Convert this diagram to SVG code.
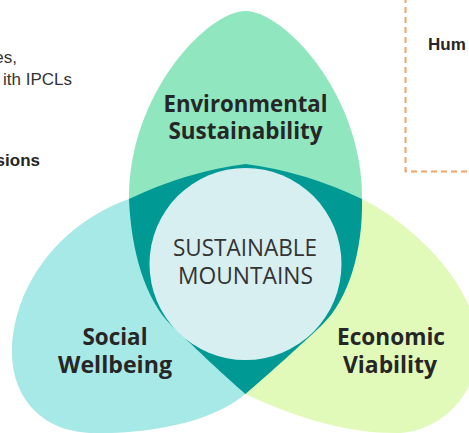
<svg xmlns="http://www.w3.org/2000/svg" width="469" height="433" viewBox="0 0 469 433">
<style>
.lbl{font-family:"Open Sans","Noto Sans","DejaVu Sans",sans-serif;font-weight:700;font-size:23px;fill:#262626;text-anchor:middle}
.ctr{font-family:"Open Sans","Noto Sans","DejaVu Sans",sans-serif;font-weight:400;font-size:24.5px;fill:#333333;text-anchor:middle}
.side{font-family:"Liberation Sans",Arial,sans-serif;font-size:17px;fill:#333333;text-anchor:end}
.sideb{font-family:"Liberation Sans",Arial,sans-serif;font-size:17px;font-weight:700;fill:#262626}
.box{fill:none;stroke:#F2A468;stroke-width:2;stroke-dasharray:6 4}
</style>
<rect width="469" height="433" fill="#ffffff"/>
<g id="side-text">
<text class="side" x="17" y="63">es,</text>
<text class="side" x="72" y="85">ith IPCLs</text>
<text class="sideb" x="40" y="166" text-anchor="end">sions</text>
</g>
<g id="dashed-box">
<rect class="box" x="405.5" y="-20" width="100" height="191.5"/>
<text class="sideb" x="428" y="50">Hum</text>
</g>
<g id="environmental">
<path d="M245.5,11 C284,11 363,95 362,199 L129,199 C128,95 207,11 245.5,11 Z" fill="#8FE6BF"/>
<text class="lbl" x="245.5" y="111.5" textLength="164" lengthAdjust="spacingAndGlyphs">Environmental</text>
<text class="lbl" x="245.5" y="138.5" textLength="154" lengthAdjust="spacingAndGlyphs">Sustainability</text>
</g>
<g id="social">
<path d="M129,199 C56,225 12,290 12,353 C12,395 40,433 95,433 C130,434 205,428 245.5,394 L245.5,264 Z" fill="#A6E9E6"/>
<text class="lbl" x="115" y="345" textLength="65" lengthAdjust="spacingAndGlyphs">Social</text>
<text class="lbl" x="115" y="373" textLength="114" lengthAdjust="spacingAndGlyphs">Wellbeing</text>
</g>
<g id="economic">
<path d="M362,199 C410,222 478,285 478,347 C478,395 440,433 395,433 C350,433 300,420 245.5,394 L245.5,264 Z" fill="#E2FAB9"/>
<text class="lbl" x="391" y="345" textLength="108" lengthAdjust="spacingAndGlyphs">Economic</text>
<text class="lbl" x="390" y="373" textLength="94" lengthAdjust="spacingAndGlyphs">Viability</text>
</g>
<g id="overlap">
<path d="M129,199 Q186.75,171.5 245.5,164 Q304.25,171.5 362,199 C363,250 349,300 321,326 C303,343 271,372 245.5,394 C220,372 190,343 172,326 C145,300 131,250 129,199 Z" fill="#009994"/>
</g>
<g id="center">
<circle cx="245.5" cy="264" r="96" fill="#D8EFF1"/>
<text class="ctr" x="245" y="256" textLength="144" lengthAdjust="spacingAndGlyphs">SUSTAINABLE</text>
<text class="ctr" x="245.5" y="283.5" textLength="135" lengthAdjust="spacingAndGlyphs">MOUNTAINS</text>
</g>
<g id="connectors"/>
</svg>
